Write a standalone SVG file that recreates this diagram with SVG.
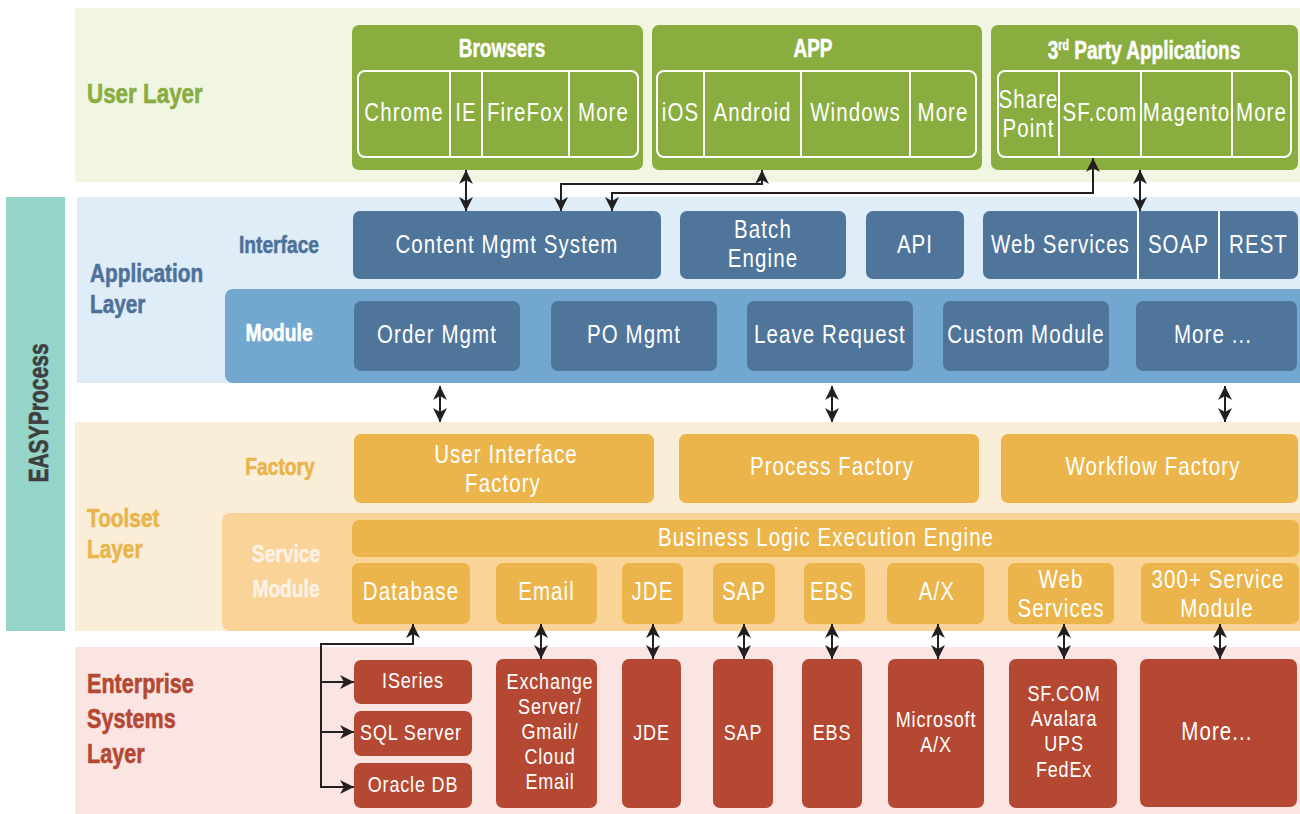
<svg xmlns="http://www.w3.org/2000/svg" width="1300" height="814" viewBox="0 0 1300 814">
<defs>
<style>
text{font-family:"Liberation Sans",Arial,sans-serif;transform-box:fill-box}
.h{font-weight:bold;stroke-width:0.6;transform:scaleX(.8);transform-origin:left center}
.hc{text-anchor:middle;transform-origin:center}
.t{fill:#fff;text-anchor:middle;font-size:25px;letter-spacing:1.3px;transform:scaleX(.82);transform-origin:center}
.ts{font-size:22px;letter-spacing:1px}
.ti{font-weight:bold;fill:#fff;stroke:#fff;stroke-width:0.5;text-anchor:middle;font-size:25px;transform:scaleX(.76);transform-origin:center}
.g{fill:#8aad3f}
.gi{fill:none;stroke:#fff;stroke-width:2}
.dv{stroke:#fff;stroke-width:2}
.b{fill:#4f759b}
.o{fill:#ebb54b}
.r{fill:#b44833}
.c{fill:none;stroke:#231f20;stroke-width:2}
</style>
<marker id="ah" markerUnits="userSpaceOnUse" markerWidth="14" markerHeight="14" viewBox="0 0 14 14" refX="14" refY="7" orient="auto-start-reverse">
<path d="M0,0 L14,7 L0,14 L4,7 Z" fill="#231f20"/>
</marker>
</defs>

<g id="bands">
<rect x="75" y="8" width="1225" height="174" fill="#f0f6e2"/>
<rect x="77" y="197" width="1223" height="186" fill="#deedf8"/>
<rect x="75" y="422" width="1225" height="209" fill="#fbeed9"/>
<rect x="75" y="647" width="1225" height="167" fill="#fbe5e3"/>
<rect x="225" y="289" width="1090" height="94" rx="8" fill="#72a7d0"/>
<rect x="222" y="513" width="1090" height="118" rx="8" fill="#f9d398"/>
</g>

<g id="easyprocess">
<rect x="6" y="197" width="59" height="434" fill="#95d5c9"/>
<g transform="translate(48,413) rotate(-90)"><text class="h hc" x="0" y="0" font-size="27" fill="#3e3e3e" stroke="#3e3e3e" style="transform:scaleX(.78)">EASYProcess</text></g>
</g>

<g id="labels">
<text class="h" x="87" y="103" font-size="28" fill="#8aad3f" stroke="#8aad3f">User Layer</text>
<text class="h" x="90" y="282" font-size="26" fill="#4f7199" stroke="#4f7199">Application</text>
<text class="h" x="90" y="313" font-size="26" fill="#4f7199" stroke="#4f7199">Layer</text>
<text class="h hc" x="279" y="253" font-size="24" fill="#4f7199" stroke="#4f7199">Interface</text>
<text class="h hc" x="279" y="341" font-size="24" fill="#ffffff" stroke="#ffffff">Module</text>
<text class="h" x="87" y="527" font-size="26" fill="#e9b54b" stroke="#e9b54b">Toolset</text>
<text class="h" x="87" y="558" font-size="26" fill="#e9b54b" stroke="#e9b54b">Layer</text>
<text class="h hc" x="280" y="475" font-size="24" fill="#e9b54b" stroke="#e9b54b">Factory</text>
<text class="h hc" x="286" y="562" font-size="24" fill="#fdf2e4" stroke="#fdf2e4">Service</text>
<text class="h hc" x="286" y="597" font-size="24" fill="#fdf2e4" stroke="#fdf2e4">Module</text>
<text class="h" x="87" y="693" font-size="27" fill="#b44832" stroke="#b44832">Enterprise</text>
<text class="h" x="87" y="728" font-size="27" fill="#b44832" stroke="#b44832">Systems</text>
<text class="h" x="87" y="763" font-size="27" fill="#b44832" stroke="#b44832">Layer</text>
</g>

<g id="browsers">
<rect class="g" x="352" y="25" width="291" height="145" rx="7"/>
<rect class="gi" x="358" y="71" width="280" height="86" rx="7"/>
<line class="dv" x1="450" y1="71" x2="450" y2="157"/>
<line class="dv" x1="482" y1="71" x2="482" y2="157"/>
<line class="dv" x1="569" y1="71" x2="569" y2="157"/>
<text class="ti" x="502" y="57">Browsers</text>
<text class="t" x="404" y="121">Chrome</text>
<text class="t" x="466" y="121">IE</text>
<text class="t" x="525.5" y="121">FireFox</text>
<text class="t" x="603.5" y="121">More</text>
</g>
<g id="app">
<rect class="g" x="652" y="25" width="330" height="145" rx="7"/>
<rect class="gi" x="657" y="71" width="319" height="86" rx="7"/>
<line class="dv" x1="704" y1="71" x2="704" y2="157"/>
<line class="dv" x1="801" y1="71" x2="801" y2="157"/>
<line class="dv" x1="910" y1="71" x2="910" y2="157"/>
<text class="ti" x="813" y="57">APP</text>
<text class="t" x="680.5" y="121">iOS</text>
<text class="t" x="752.5" y="121">Android</text>
<text class="t" x="855.5" y="121">Windows</text>
<text class="t" x="943" y="121">More</text>
</g>
<g id="thirdparty">
<rect class="g" x="991" y="25" width="307" height="145" rx="7"/>
<rect class="gi" x="998" y="71" width="293" height="86" rx="7"/>
<line class="dv" x1="1059" y1="71" x2="1059" y2="157"/>
<line class="dv" x1="1141" y1="71" x2="1141" y2="157"/>
<line class="dv" x1="1232" y1="71" x2="1232" y2="157"/>
<text class="ti" x="1144" y="59">3<tspan font-size="14" dy="-9">rd</tspan><tspan dy="9"> Party Applications</tspan></text>
<text class="t" x="1028.5" y="108">Share</text>
<text class="t" x="1028.5" y="137">Point</text>
<text class="t" x="1100" y="121">SF.com</text>
<text class="t" x="1186.5" y="121">Magento</text>
<text class="t" x="1261.5" y="121">More</text>
</g>

<g id="cms"><rect class="b" x="353" y="211" width="308" height="68" rx="7"/><text class="t" x="507" y="253">Content Mgmt System</text></g>
<g id="batch"><rect class="b" x="680" y="211" width="166" height="68" rx="7"/><text class="t" x="763" y="238">Batch</text><text class="t" x="763" y="267">Engine</text></g>
<g id="api"><rect class="b" x="866" y="211" width="98" height="68" rx="7"/><text class="t" x="915" y="253">API</text></g>
<g id="webservices">
<rect class="b" x="983" y="211" width="315" height="68" rx="7"/>
<line class="dv" x1="1138" y1="211" x2="1138" y2="279"/>
<line class="dv" x1="1219" y1="211" x2="1219" y2="279"/>
<text class="t" x="1060.5" y="253">Web Services</text>
<text class="t" x="1178.5" y="253">SOAP</text>
<text class="t" x="1258.5" y="253">REST</text>
</g>

<g id="order"><rect class="b" x="354" y="301" width="166" height="70" rx="7"/><text class="t" x="437" y="343">Order Mgmt</text></g>
<g id="po"><rect class="b" x="551" y="301" width="166" height="70" rx="7"/><text class="t" x="634" y="343">PO Mgmt</text></g>
<g id="leave"><rect class="b" x="747" y="301" width="166" height="70" rx="7"/><text class="t" x="830" y="343">Leave Request</text></g>
<g id="custom"><rect class="b" x="943" y="301" width="166" height="70" rx="7"/><text class="t" x="1026" y="343">Custom Module</text></g>
<g id="moremod"><rect class="b" x="1136" y="301" width="161" height="70" rx="7"/><text class="t" x="1213" y="343">More ...</text></g>

<g id="uifactory"><rect class="o" x="354" y="434" width="300" height="69" rx="7"/><text class="t" x="506" y="463">User Interface</text><text class="t" x="503" y="492">Factory</text></g>
<g id="processfactory"><rect class="o" x="679" y="434" width="300" height="69" rx="7"/><text class="t" x="832" y="475">Process Factory</text></g>
<g id="workflowfactory"><rect class="o" x="1001" y="434" width="297" height="69" rx="7"/><text class="t" x="1153" y="475">Workflow Factory</text></g>

<g id="blee"><rect class="o" x="352" y="520" width="947" height="37" rx="7"/><text class="t" x="826" y="546">Business Logic Execution Engine</text></g>
<g id="s-db"><rect class="o" x="352" y="563" width="118" height="61" rx="7"/><text class="t" x="411" y="600">Database</text></g>
<g id="s-email"><rect class="o" x="496" y="563" width="101" height="61" rx="7"/><text class="t" x="546.5" y="600">Email</text></g>
<g id="s-jde"><rect class="o" x="622" y="563" width="61" height="61" rx="7"/><text class="t" x="652.5" y="600">JDE</text></g>
<g id="s-sap"><rect class="o" x="713" y="563" width="62" height="61" rx="7"/><text class="t" x="744" y="600">SAP</text></g>
<g id="s-ebs"><rect class="o" x="804" y="563" width="61" height="61" rx="7"/><text class="t" x="832" y="600">EBS</text></g>
<g id="s-ax"><rect class="o" x="887" y="563" width="97" height="61" rx="7"/><text class="t" x="937" y="600">A/X</text></g>
<g id="s-ws"><rect class="o" x="1008" y="563" width="106" height="61" rx="7"/><text class="t" x="1061" y="588">Web</text><text class="t" x="1061" y="617">Services</text></g>
<g id="s-300"><rect class="o" x="1141" y="563" width="158" height="61" rx="7"/><text class="t" x="1218" y="588">300+ Service</text><text class="t" x="1217" y="617">Module</text></g>

<g id="e-iseries"><rect class="r" x="354" y="660" width="118" height="44" rx="7"/><text class="t ts" x="413" y="688">ISeries</text></g>
<g id="e-sql"><rect class="r" x="354" y="711" width="118" height="45" rx="7"/><text class="t ts" x="411" y="740">SQL Server</text></g>
<g id="e-oracle"><rect class="r" x="354" y="763" width="118" height="45" rx="7"/><text class="t ts" x="413" y="792">Oracle DB</text></g>
<g id="e-exchange"><rect class="r" x="496" y="659" width="101" height="149" rx="7"/>
<text class="t ts" x="550" y="689">Exchange</text><text class="t ts" x="550" y="714">Server/</text><text class="t ts" x="550" y="739">Gmail/</text><text class="t ts" x="550" y="764">Cloud</text><text class="t ts" x="550" y="789">Email</text></g>
<g id="e-jde"><rect class="r" x="622" y="659" width="59" height="149" rx="7"/><text class="t ts" x="651.5" y="740">JDE</text></g>
<g id="e-sap"><rect class="r" x="713" y="659" width="60" height="149" rx="7"/><text class="t ts" x="743" y="740">SAP</text></g>
<g id="e-ebs"><rect class="r" x="802" y="659" width="60" height="149" rx="7"/><text class="t ts" x="832" y="740">EBS</text></g>
<g id="e-msax"><rect class="r" x="888" y="659" width="96" height="149" rx="7"/><text class="t ts" x="936" y="727">Microsoft</text><text class="t ts" x="936" y="752">A/X</text></g>
<g id="e-sf"><rect class="r" x="1009" y="659" width="108" height="149" rx="7"/><text class="t ts" x="1064" y="701">SF.COM</text><text class="t ts" x="1064" y="726">Avalara</text><text class="t ts" x="1064" y="751">UPS</text><text class="t ts" x="1064" y="777">FedEx</text></g>
<g id="e-more"><rect class="r" x="1140" y="659" width="157" height="148" rx="7"/><text class="t" x="1217" y="740">More...</text></g>

<g id="connectors">
<path class="c" d="M466,170 V211" marker-start="url(#ah)" marker-end="url(#ah)"/>
<path class="c" d="M561,211 V184 H762 V170" marker-start="url(#ah)" marker-end="url(#ah)"/>
<path class="c" d="M612,211 V193 H1093 V158" marker-start="url(#ah)" marker-end="url(#ah)"/>
<path class="c" d="M1140,170 V211" marker-start="url(#ah)" marker-end="url(#ah)"/>
<path class="c" d="M440,386 V422" marker-start="url(#ah)" marker-end="url(#ah)"/>
<path class="c" d="M832,386 V422" marker-start="url(#ah)" marker-end="url(#ah)"/>
<path class="c" d="M1225,386 V422" marker-start="url(#ah)" marker-end="url(#ah)"/>
<path class="c" d="M541,624 V659" marker-start="url(#ah)" marker-end="url(#ah)"/>
<path class="c" d="M653,624 V659" marker-start="url(#ah)" marker-end="url(#ah)"/>
<path class="c" d="M744,624 V659" marker-start="url(#ah)" marker-end="url(#ah)"/>
<path class="c" d="M832,624 V659" marker-start="url(#ah)" marker-end="url(#ah)"/>
<path class="c" d="M938,624 V659" marker-start="url(#ah)" marker-end="url(#ah)"/>
<path class="c" d="M1064,624 V659" marker-start="url(#ah)" marker-end="url(#ah)"/>
<path class="c" d="M1220,624 V659" marker-start="url(#ah)" marker-end="url(#ah)"/>
<path class="c" d="M321,787 V644 H413 V624" marker-end="url(#ah)"/>
<path class="c" d="M321,682 H354" marker-end="url(#ah)"/>
<path class="c" d="M321,732 H354" marker-end="url(#ah)"/>
<path class="c" d="M320,787 H354" marker-end="url(#ah)"/>
</g>
</svg>
